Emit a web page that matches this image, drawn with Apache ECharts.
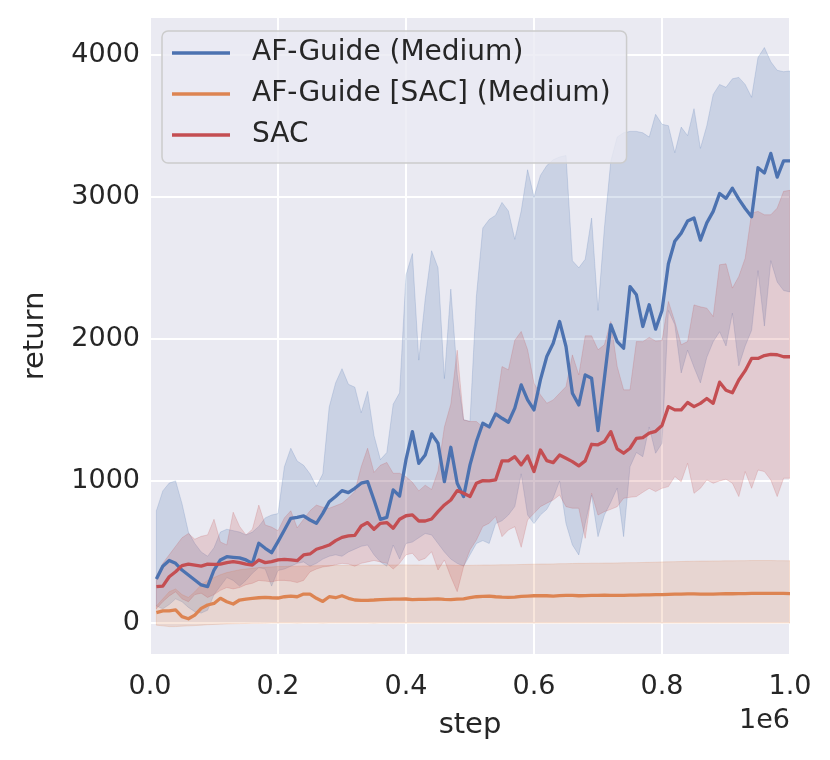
<!DOCTYPE html>
<html><head><meta charset="utf-8">
<script src="https://cdn.jsdelivr.net/npm/echarts@6/dist/echarts.min.js"></script>
<style>html,body{margin:0;padding:0;background:#fff}#c{width:830px;height:760px}</style>
</head><body><div id="c"></div>
<script>
// x positions (environment steps)
const steps = [10000,20000,30000,40000,50000,60000,70000,80000,90000,100000,
 110000,120000,130000,140000,150000,160000,170000,180000,190000,200000,
 210000,220000,230000,240000,250000,260000,270000,280000,290000,300000,
 310000,320000,330000,340000,350000,360000,370000,380000,390000,400000,
 410000,420000,430000,440000,450000,460000,470000,480000,490000,500000,
 510000,520000,530000,540000,550000,560000,570000,580000,590000,600000,
 610000,620000,630000,640000,650000,660000,670000,680000,690000,700000,
 710000,720000,730000,740000,750000,760000,770000,780000,790000,800000,
 810000,820000,830000,840000,850000,860000,870000,880000,890000,900000,
 910000,920000,930000,940000,950000,960000,970000,980000,990000,1000000];

const seriesNames = ['AF-Guide (Medium)', 'AF-Guide [SAC] (Medium)', 'SAC'];

// AF-Guide (Medium): mean and band
const afGuide = [310,400,440,420,373,338,303,268,256,373,
 444,467,462,458,444,420,561,526,495,573,
 655,737,744,754,725,702,772,854,890,932,
 918,948,984,995,866,730,744,937,894,1150,
 1347,1124,1183,1331,1265,995,1237,984,890,1113,
 1277,1406,1380,1472,1441,1413,1512,1676,1570,1500,
 1711,1876,1969,2122,1946,1617,1535,1746,1723,1354,
 1723,2098,1981,1934,2368,2310,2087,2240,2068,2200,
 2529,2687,2744,2830,2851,2695,2816,2897,3023,2989,
 3060,2983,2917,2859,3204,3167,3305,3138,3253,3253];
const afGuideUpper = [790,930,985,1000,840,640,560,500,470,530,
 640,660,650,640,620,640,680,740,760,770,
 1100,1230,1140,1110,1050,960,1050,1520,1690,1790,
 1680,1660,1480,1630,1320,1150,1200,1540,1620,2450,
 2600,1850,2280,2620,2500,1720,2350,1750,1430,1420,
 2300,2780,2840,2870,2960,2900,2700,2900,3190,3000,
 3150,3220,3260,3280,3290,2550,2500,2560,2850,2200,
 2780,3250,3420,3450,3460,3460,3450,3420,3580,3510,
 3500,3310,3490,3430,3620,3340,3500,3720,3790,3770,
 3830,3840,3790,3700,3980,4050,3950,3890,3880,3885];
const afGuideLower = [120,100,130,170,150,110,80,70,90,200,
 260,320,300,260,300,350,390,380,260,370,
 380,400,420,430,400,420,450,470,480,470,
 500,520,540,549,480,430,400,549,450,560,
 570,600,630,620,560,500,450,420,400,480,
 560,580,560,700,720,760,820,1050,760,700,
 760,800,880,1000,700,550,479,700,900,608,
 760,850,950,608,1100,1200,1171,1380,1195,1265,
 2200,2100,1760,1920,1800,1690,1870,1980,2050,1950,
 2180,1810,1950,2060,2480,2090,2550,2400,2340,2330];

// AF-Guide [SAC] (Medium)
const afGuideSac = [73,85,85,92,45,30,56,103,127,138,
 174,150,134,162,169,174,178,181,178,176,
 185,190,185,204,204,174,152,185,178,192,
 174,162,160,160,162,165,167,168,168,169,
 165,166,166,168,170,167,165,168,170,178,
 185,188,190,185,182,180,182,188,190,192,
 193,192,190,193,195,194,192,193,195,195,
 196,195,194,195,196,197,198,198,200,200,
 202,203,204,205,205,204,203,204,205,206,
 206,207,207,208,208,209,209,208,208,207];
const afGuideSacUpper = [120,170,220,240,200,180,220,270,300,320,
 340,355,365,375,380,385,390,392,395,398,
 398,400,400,402,402,403,404,405,405,406,
 406,407,407,408,408,408,408,408,409,409,
 408,408,407,407,408,408,407,406,406,406,
 407,408,408,409,410,410,411,412,413,414,
 415,415,416,418,418,419,420,420,421,421,
 422,422,423,424,425,425,426,427,428,430,
 431,432,433,434,435,436,436,437,437,438,
 438,439,439,440,440,440,440,439,439,438];
const afGuideSacLower = [-15,-20,-25,-25,-22,-20,-18,-15,-12,-10,
 -8,-6,-5,-4,-3,-2,-2,-1,0,0,
 0,0,-1,0,0,0,-1,0,0,0,
 0,0,0,0,-1,0,0,0,0,0,
 0,0,0,0,0,0,0,0,0,0,
 0,0,0,0,0,0,0,0,0,0,
 0,0,0,0,0,0,0,0,0,0,
 0,0,0,0,0,0,0,0,0,0,
 0,0,0,0,0,0,0,0,0,0,
 0,0,0,0,0,0,0,0,0,0];

// SAC
const sac = [256,260,326,361,404,415,408,401,415,413,
 415,425,432,425,415,408,444,425,432,444,
 448,444,439,479,486,519,533,549,580,603,
 613,617,683,707,660,702,707,667,730,755,
 761,718,718,732,784,831,866,932,913,890,
 984,1002,1000,1007,1141,1141,1171,1113,1176,1066,
 1218,1143,1129,1183,1160,1136,1106,1141,1258,1254,
 1277,1347,1225,1195,1230,1300,1305,1336,1349,1390,
 1523,1500,1500,1552,1523,1546,1580,1546,1695,1638,
 1621,1710,1776,1862,1862,1882,1891,1888,1874,1874];
const sacUpper = [330,420,480,540,600,630,590,610,620,730,
 570,550,780,680,620,660,830,690,675,650,
 740,790,670,730,790,830,815,808,825,843,
 880,925,1100,1230,1060,1110,1130,1054,1054,1030,
 990,930,970,940,1070,1380,1540,1920,1430,1418,
 1418,1380,1383,1500,1805,1782,1990,2052,1923,1688,
 1606,1547,1570,1617,1664,1887,1746,2021,2021,1923,
 1958,2122,1805,1641,1641,1981,1980,2010,1985,1988,
 2263,2122,1958,1981,2239,2225,2216,2157,2521,2528,
 2357,2439,2568,2885,2897,2873,2873,2920,3038,3045];
const sacLower = [100,150,190,220,170,150,200,210,180,200,
 230,250,240,250,270,280,300,295,290,300,
 300,295,285,300,360,380,395,400,410,420,
 415,400,420,430,440,430,420,380,420,480,
 491,439,455,502,373,444,326,221,397,514,
 584,680,702,749,608,655,678,533,725,772,
 819,843,866,901,819,808,808,596,913,760,
 784,800,819,878,885,890,920,948,925,948,
 960,1031,995,1124,913,948,1007,984,1000,1012,
 984,890,1066,948,1077,1066,1007,890,1019,1019];

const xTickValues = [0, 200000, 400000, 600000, 800000, 1000000];

const COLORS = ['#4C72B0', '#DD8452', '#C44E52'];
const RGB = ['76,114,176', '221,132,82', '196,78,82'];
const FONT = 'DejaVu Sans';
const TXT = '#262626';

function pairs(arr) { return steps.map((s, i) => [s, arr[i]]); }

// confidence band drawn as one polygon through the axis scales
function band(id, lower, upper, rgb) {
  return {
    type: 'custom', name: id, silent: true, z: 1,
    data: steps.map((s, i) => [s, lower[i], upper[i]]),
    encode: { x: 0, y: [1, 2] },
    clip: true,
    renderItem: function (params, api) {
      if (params.dataIndex !== 0) return null;
      const pts = [];
      for (let i = 0; i < steps.length; i++) pts.push(api.coord([steps[i], upper[i]]));
      for (let i = steps.length - 1; i >= 0; i--) pts.push(api.coord([steps[i], lower[i]]));
      return {
        type: 'polygon',
        shape: { points: pts },
        style: { fill: 'rgba(' + rgb + ',0.2)', stroke: 'rgba(' + rgb + ',0.2)', lineWidth: 1 }
      };
    }
  };
}

function mainLine(name, values, color) {
  return { type: 'line', name: name, data: pairs(values), symbol: 'none', z: 3,
    color: color, lineStyle: { width: 3.3, color: color, join: 'round' }, itemStyle: { color: color } };
}

const chart = echarts.init(document.getElementById('c'), null, { renderer: 'canvas' });

chart.setOption({
  animation: false,
  backgroundColor: '#ffffff',
  grid: { left: 150, right: 40, top: 17, bottom: 105, show: true,
    backgroundColor: '#EAEAF2', borderWidth: 0, containLabel: false },
  xAxis: {
    type: 'value', min: 0, max: 1000000, interval: 200000,
    axisLine: { show: false }, axisTick: { show: false },
    splitLine: { show: true, lineStyle: { color: '#ffffff', width: 2 } },
    axisLabel: { formatter: v => (v / 1e6).toFixed(1), fontSize: 27, color: TXT,
      fontFamily: FONT, margin: 18, customValues: xTickValues },
    name: 'step', nameLocation: 'middle', nameGap: 56,
    nameTextStyle: { fontSize: 29, color: TXT, fontFamily: FONT }
  },
  yAxis: {
    type: 'value', min: -225, max: 4265, splitNumber: 5,
    axisLine: { show: false }, axisTick: { show: false },
    splitLine: { show: true, lineStyle: { color: '#ffffff', width: 2 } },
    axisLabel: { fontSize: 27, color: TXT, fontFamily: FONT, margin: 10,
      showMinLabel: false, showMaxLabel: false,
      formatter: v => (v % 1000 === 0 ? String(v) : '') },
    name: 'return', nameLocation: 'middle', nameGap: 100,
    nameTextStyle: { fontSize: 29, color: TXT, fontFamily: FONT }
  },
  legend: {
    show: true, left: 162, top: 31, orient: 'vertical',
    selectedMode: false,
    data: seriesNames.map(n => ({ name: n, icon: 'rect' })),
    itemWidth: 58, itemHeight: 3.3, itemGap: 13,
    padding: [8, 16, 14, 10],
    backgroundColor: 'rgba(234,234,242,0.8)',
    borderColor: '#cccccc', borderWidth: 1.5, borderRadius: 6,
    textStyle: { fontSize: 28, color: TXT, fontFamily: FONT, padding: [0, 0, 0, 17] }
  },
  graphic: [
    { type: 'text', right: 40, top: 707,
      style: { text: '1e6', font: '27px "DejaVu Sans"', fill: TXT } }
  ],
  series: [
    band('bandA', afGuideLower, afGuideUpper, RGB[0]),
    band('bandB', afGuideSacLower, afGuideSacUpper, RGB[1]),
    band('bandC', sacLower, sacUpper, RGB[2]),
    mainLine(seriesNames[0], afGuide, COLORS[0]),
    mainLine(seriesNames[1], afGuideSac, COLORS[1]),
    mainLine(seriesNames[2], sac, COLORS[2])
  ]
});
</script></body></html>
